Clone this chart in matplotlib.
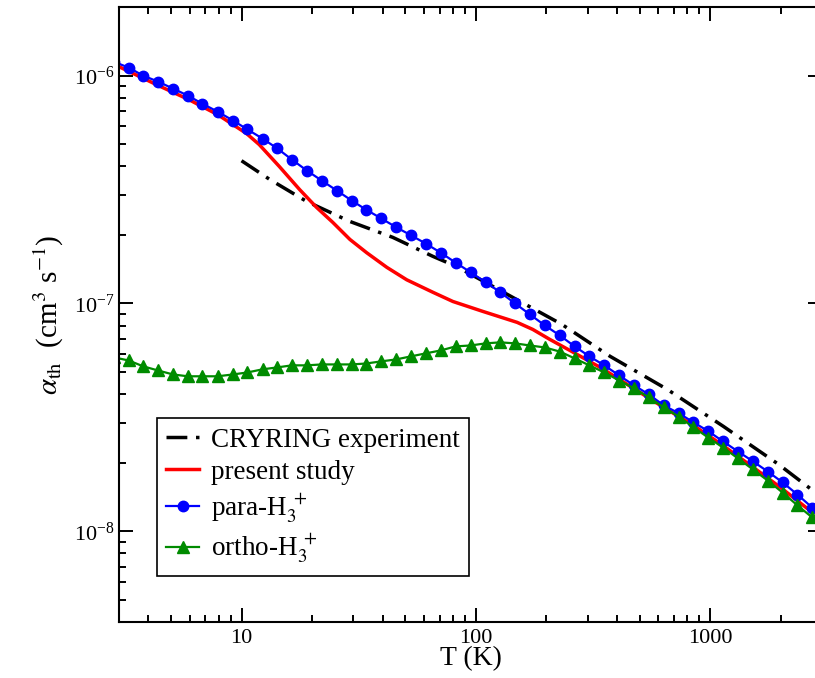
import matplotlib
matplotlib.use("Agg")
import matplotlib.pyplot as plt
from matplotlib.ticker import FuncFormatter

plt.rcParams['font.family'] = ['Liberation Serif', 'DejaVu Serif']
plt.rcParams['mathtext.fontset'] = 'stix'

# temperature grid of the para / ortho curves (K)
T_grid = [2.85, 3.3, 3.8, 4.4, 5.1, 5.9, 6.8, 7.9, 9.2, 10.6, 12.3,
          14.2, 16.4, 19.0, 22.0, 25.5, 29.5, 34.0, 39.5, 45.7, 52.9,
          61.2, 70.8, 82.0, 95.0, 110, 127, 147, 170, 197, 228,
          264, 305, 353, 409, 473, 547, 633, 733, 848, 981,
          1135, 1314, 1520, 1760, 2036, 2356, 2726]

para_alpha = [1.15e-6, 1.084e-6, 1.0e-6, 9.41e-7, 8.77e-7, 8.17e-7, 7.53e-7, 6.95e-7, 6.35e-7, 5.80e-7, 5.29e-7,
              4.79e-7, 4.28e-7, 3.83e-7, 3.46e-7, 3.13e-7, 2.83e-7, 2.58e-7, 2.36e-7, 2.16e-7, 1.99e-7,
              1.83e-7, 1.67e-7, 1.51e-7, 1.37e-7, 1.24e-7, 1.12e-7, 1.00e-7, 8.95e-8, 8.01e-8, 7.24e-8,
              6.48e-8, 5.86e-8, 5.35e-8, 4.83e-8, 4.37e-8, 3.99e-8, 3.57e-8, 3.30e-8, 3.01e-8, 2.75e-8,
              2.48e-8, 2.24e-8, 2.03e-8, 1.83e-8, 1.64e-8, 1.45e-8, 1.27e-8]

ortho_alpha = [5.8e-8, 5.62e-8, 5.30e-8, 5.08e-8, 4.88e-8, 4.79e-8, 4.79e-8, 4.79e-8, 4.88e-8, 4.98e-8, 5.14e-8,
               5.24e-8, 5.35e-8, 5.35e-8, 5.40e-8, 5.40e-8, 5.40e-8, 5.45e-8, 5.57e-8, 5.68e-8, 5.86e-8,
               6.04e-8, 6.22e-8, 6.48e-8, 6.54e-8, 6.68e-8, 6.75e-8, 6.68e-8, 6.54e-8, 6.41e-8, 6.15e-8,
               5.74e-8, 5.35e-8, 4.98e-8, 4.59e-8, 4.24e-8, 3.87e-8, 3.50e-8, 3.19e-8, 2.86e-8, 2.58e-8,
               2.33e-8, 2.09e-8, 1.87e-8, 1.67e-8, 1.48e-8, 1.30e-8, 1.15e-8]

# present study (thermal average)
T_present = [3.0, 4.42, 5.95, 7.89, 10.5, 11.9, 14.5, 17.7, 20.9, 24.5, 29.0, 34.2, 41.7,
             50.7, 65.5, 79.8, 107, 150, 175, 207, 257, 345, 464, 624, 838, 1114,
             1483, 1991, 2729]
alpha_present = [1.094e-6, 9.04e-7, 7.85e-7, 6.75e-7, 5.57e-7, 4.98e-7, 3.99e-7, 3.16e-7, 2.64e-7,
                 2.27e-7, 1.91e-7, 1.67e-7, 1.44e-7, 1.27e-7, 1.12e-7, 1.02e-7, 9.23e-8, 8.26e-8,
                 7.69e-8, 6.95e-8, 6.15e-8, 5.19e-8, 4.28e-8, 3.53e-8, 2.94e-8, 2.41e-8, 1.95e-8,
                 1.56e-8, 1.21e-8]

# CRYRING storage ring experiment
T_cryring = [10.0, 13.2, 19.0, 29.0, 44.2, 65.5, 83.0, 233, 374, 655, 1137, 1954, 2812]
alpha_cryring = [4.23e-7, 3.50e-7, 2.80e-7, 2.29e-7, 1.95e-7, 1.61e-7, 1.45e-7, 8.09e-8,
                 5.86e-8, 4.20e-8, 2.89e-8, 1.97e-8, 1.48e-8]

fig = plt.figure(figsize=(8.15, 6.78), dpi=100)
ax = fig.add_axes([0.146, 0.0826, 0.8626, 0.9071])

ax.plot(T_cryring, alpha_cryring, color='black', lw=2.5, dashes=(6, 2.5, 1, 2.5),
        label='CRYRING experiment')
ax.plot(T_present, alpha_present, color='#ff0000', lw=2.5, label='present study')
ax.plot(T_grid, para_alpha, color='#0000ff', lw=1.6, marker='o', ms=7.5,
        mec='#0000ff', label=r'para-H$_3^{\;+}$')
ax.plot(T_grid, ortho_alpha, color='#008b00', lw=1.6, marker='^', ms=8.5,
        mec='#008b00', label=r'ortho-H$_3^{\;+}$')

ax.set_xscale('log')
ax.set_yscale('log')
ax.set_xlim(3, 3000)
ax.set_ylim(4e-9, 2e-6)
ax.xaxis.set_major_formatter(FuncFormatter(lambda v, p: '%d' % round(v)))

ax.set_xlabel('T (K)', fontsize=20, labelpad=-1)
ax.set_ylabel(r'$\alpha_{\rm th}$  (cm$^{3}$ s$^{-1}$)', fontsize=21, labelpad=6)

for s in ax.spines.values():
    s.set_linewidth(1.5)
ax.tick_params(which='both', direction='in', top=True, right=True, width=1.4, labelsize=16)
ax.tick_params(which='major', length=10)
ax.tick_params(which='minor', length=5)
ax.tick_params(axis='x', which='major', pad=5)
ax.tick_params(axis='y', which='major', pad=3)

leg = ax.legend(loc='lower left', bbox_to_anchor=(0.054, 0.075), borderaxespad=0,
                fontsize=19.5, fancybox=False, framealpha=1, edgecolor='black',
                handlelength=1.2, handletextpad=0.45, labelspacing=0.25, borderpad=0.35)
leg.get_frame().set_linewidth(1.2)

plt.savefig('out.png', dpi=100)
